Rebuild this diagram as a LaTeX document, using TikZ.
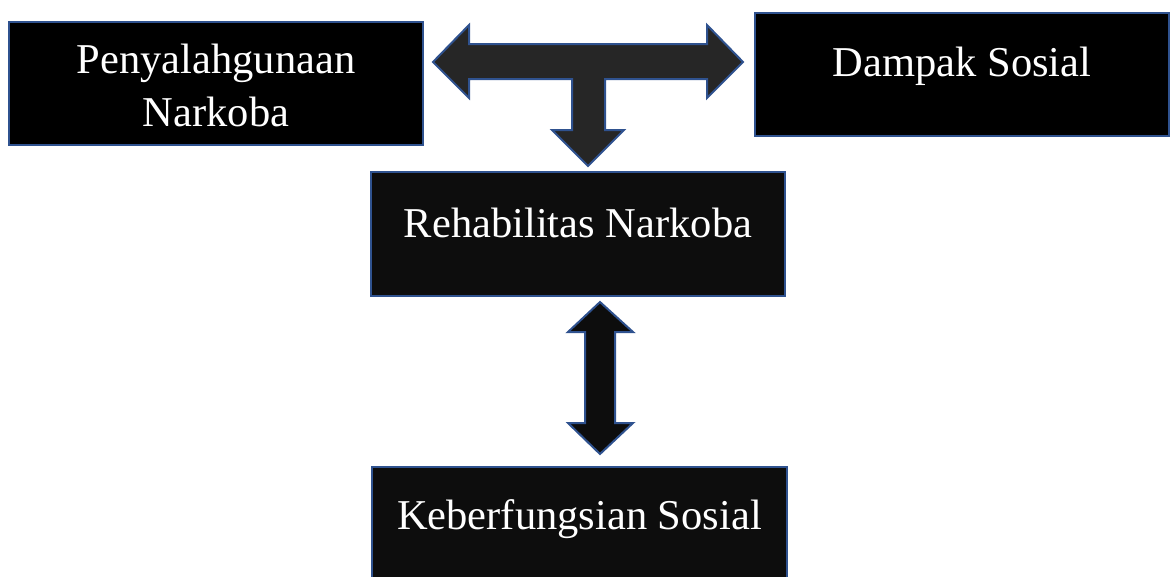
\documentclass[tikz,border=0pt]{standalone}
\usepackage{fontspec}
\setmainfont{Liberation Serif}
\definecolor{edgeblue}{HTML}{2F528F}
\definecolor{arrowgray}{HTML}{262626}
\definecolor{nearblack}{HTML}{0D0D0D}
\tikzset{
  box/.style={draw=edgeblue, line width=2.5pt, fill=black, text=white, align=center,
    font=\fontsize{42.5}{53}\selectfont, inner sep=0pt},
  blockarrow/.style={draw=edgeblue, line width=2pt, line join=miter}
}
\begin{document}
\begin{tikzpicture}[x=1pt,y=-1pt]
  \useasboundingbox (0,0) rectangle (1170,576);
  \clip (0,0) rectangle (1170,576);
  \node[box, minimum width=414pt, minimum height=123pt, text height=95pt, text depth=10pt] (abuse) at (216,83.5) {Penyalahgunaan\\Narkoba};
  \node[box, minimum width=414pt, minimum height=123pt, text height=30pt, text depth=26pt] (impact) at (962,74.5) {Dampak Sosial};
  \node[box, fill=nearblack, minimum width=414pt, minimum height=124pt, text height=30pt, text depth=24pt] (rehab) at (578,234) {Rehabilitas Narkoba};
  \node[box, fill=nearblack, minimum width=415pt, minimum height=124pt, text height=30pt, text depth=30pt] (function) at (579.5,529) {Keberfungsian Sosial};
  % T arrow between the top boxes
  \draw[blockarrow, fill=arrowgray] (433,62) -- (469,25) -- (469,44) -- (707,44) -- (707,25) -- (743,62)
    -- (707,98) -- (707,79) -- (605,79) -- (605,130) -- (624,130) -- (588,166) -- (552,130)
    -- (572,130) -- (572,79) -- (469,79) -- (469,98) -- cycle;
  % double arrow between rehab and function
  \draw[blockarrow, fill=nearblack] (600,302) -- (633,332) -- (615,332) -- (615,423) -- (633,423)
    -- (600,454) -- (568,423) -- (585,423) -- (585,332) -- (568,332) -- cycle;
\end{tikzpicture}
\end{document}
